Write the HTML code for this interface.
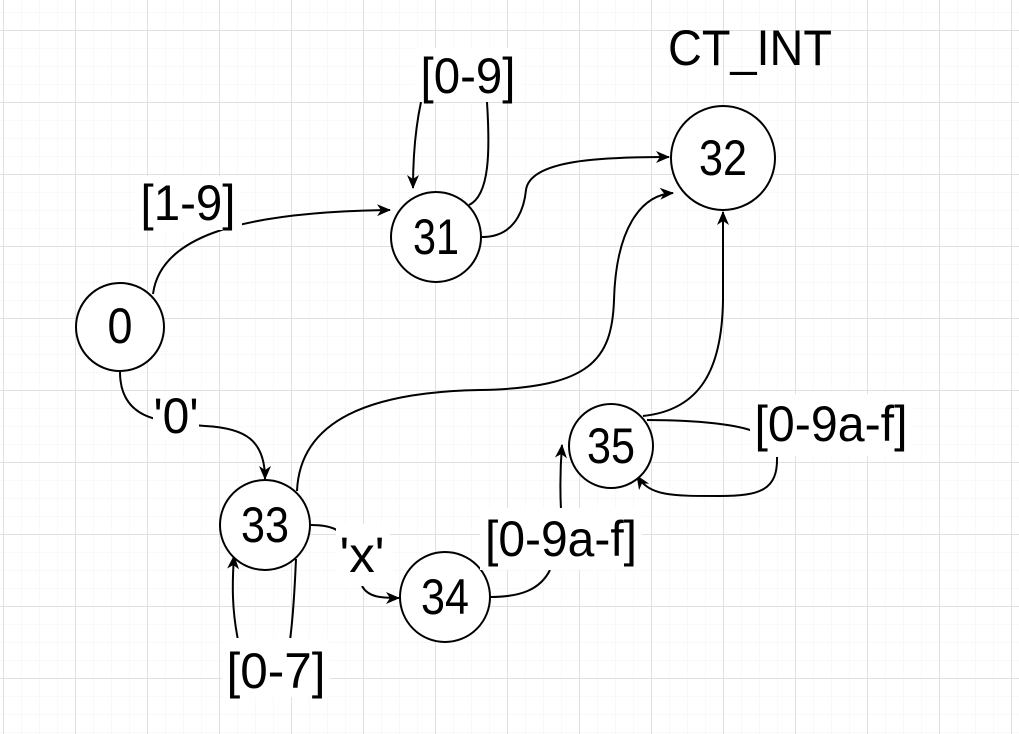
<!DOCTYPE html>
<html><head><style>
html,body{margin:0;padding:0;background:#fff;}
svg{display:block;}
text{font-family:"Liberation Sans",Arial,sans-serif;fill:#000;}
</style></head><body>
<svg width="1019" height="734" viewBox="0 0 1019 734" xmlns="http://www.w3.org/2000/svg">
<defs>
<pattern id="minor" width="18" height="18" patternUnits="userSpaceOnUse" x="3" y="12">
<path d="M0 0H18M0 0V18" stroke="#f3f3f3" stroke-width="1" fill="none"/>
</pattern>
<pattern id="major" width="72" height="72" patternUnits="userSpaceOnUse" x="3" y="30">
<path d="M0 0.5H72M0.5 0V72" stroke="#e0e0e0" stroke-width="1" fill="none"/>
</pattern>
<marker id="a" markerWidth="16" markerHeight="16" refX="13" refY="7" orient="auto" markerUnits="userSpaceOnUse">
<path d="M0 1L14 7L0 13L4 7Z" fill="#000"/>
</marker>
</defs>
<rect width="1019" height="734" fill="url(#minor)"/>
<rect width="1019" height="734" fill="url(#major)"/>
<g fill="none" stroke="#000" stroke-width="2">
<path d="M153 294C160 240 230 212 390 210" marker-end="url(#a)"/>
<path d="M469 205C490 195 490 150 487 102"/>
<path d="M421 102C415 130 413 160 413 188" marker-end="url(#a)"/>
<path d="M482 237C520 237 525 200 526 190C530 160 600 157 669 157" marker-end="url(#a)"/>
<path d="M120 372C120 400 135 415 160 420C175 423 190 425 205 426C245 428 265 440 265 479" marker-end="url(#a)"/>
<path d="M296 559C295 580 294 610 290 640"/>
<path d="M238 640C232 610 232 585 234 556" marker-end="url(#a)"/>
<path d="M297 491C300 420 370 392 480 390C590 388 612 360 614 300C616 230 640 195 673 193" marker-end="url(#a)"/>
<path d="M311 525C330 525 342 530 345 540"/>
<path d="M362 586C368 597 380 598 399 598" marker-end="url(#a)"/>
<path d="M490 597C520 597 540 590 550 570"/>
<path d="M561 510C560 490 560 470 562 445" marker-end="url(#a)"/>
<path d="M643 416C700 410 722 370 723 300L723 212" marker-end="url(#a)"/>
<path d="M647 420C700 420 740 425 755 432"/>
<path d="M777 457C778 490 760 496 720 496C670 496 650 496 637 476" marker-end="url(#a)"/>
</g>
<g fill="#fff" stroke="#000" stroke-width="2">
<circle cx="120" cy="327" r="44"/>
<circle cx="436" cy="237" r="45"/>
<circle cx="723" cy="158" r="52"/>
<circle cx="265" cy="525" r="45"/>
<circle cx="445" cy="597" r="45"/>
<circle cx="611" cy="446" r="42"/>
</g>
<g font-size="50" text-anchor="middle">
<text x="120" y="343" textLength="25" lengthAdjust="spacingAndGlyphs">0</text>
<text x="436" y="254" textLength="46" lengthAdjust="spacingAndGlyphs">31</text>
<text x="723" y="175" textLength="48" lengthAdjust="spacingAndGlyphs">32</text>
<text x="265" y="542" textLength="48" lengthAdjust="spacingAndGlyphs">33</text>
<text x="445" y="614" textLength="48" lengthAdjust="spacingAndGlyphs">34</text>
<text x="611" y="463" textLength="48" lengthAdjust="spacingAndGlyphs">35</text>
</g>
<g font-size="50" text-anchor="middle">
<rect x="414" y="48" width="108" height="54" fill="#fff"/>
<text x="468" y="93" textLength="95" lengthAdjust="spacingAndGlyphs">[0-9]</text>
<rect x="134" y="176" width="108" height="54" fill="#fff"/>
<text x="188" y="220" textLength="95" lengthAdjust="spacingAndGlyphs">[1-9]</text>
<text x="750" y="65" textLength="164" lengthAdjust="spacingAndGlyphs">CT_INT</text>
<rect x="153" y="394" width="46" height="44" fill="#fff"/>
<text x="176" y="433" textLength="45" lengthAdjust="spacingAndGlyphs">'0'</text>
<rect x="336" y="524" width="54" height="62" fill="#fff"/>
<text x="362" y="572" textLength="45" lengthAdjust="spacingAndGlyphs">'x'</text>
<rect x="480" y="508" width="162" height="62" fill="#fff"/>
<text x="561" y="556" textLength="152" lengthAdjust="spacingAndGlyphs">[0-9a-f]</text>
<rect x="750" y="394" width="162" height="62" fill="#fff"/>
<text x="831" y="441" textLength="153" lengthAdjust="spacingAndGlyphs">[0-9a-f]</text>
<rect x="222" y="638" width="108" height="59" fill="#fff"/>
<text x="276" y="688" textLength="99" lengthAdjust="spacingAndGlyphs">[0-7]</text>
</g>
</svg>
</body></html>
